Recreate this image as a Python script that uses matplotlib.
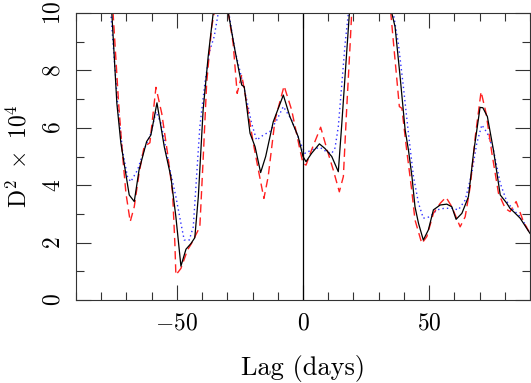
import numpy as np
import matplotlib
matplotlib.use("Agg")
import matplotlib.pyplot as plt
from matplotlib.ticker import MultipleLocator

plt.rcParams['font.family'] = 'cmr10'
plt.rcParams['mathtext.fontset'] = 'cm'
plt.rcParams['axes.formatter.use_mathtext'] = True

# solid black curve
lag_k = [-78, -75.8, -73.8, -72.2, -68.9, -66.9, -65, -62, -60.3, -57.9, -55, -52.4,
         -50.4, -48.4, -46.4, -44.4, -42.9, -41.5, -39.6, -37.6, -35.6, -32.6, -29.6,
         -27, -24.3, -23.3, -21, -19, -16.8, -14.8, -11.8, -7.8, -5.2, -1.9, 0,
         1.2, 3.4, 6.5, 8.7, 11.4, 14.0, 15.3, 17.3, 18.4, 27, 35.2, 36.5, 38.5,
         40.5, 41.8, 43.2, 44.4, 45.8, 47.7, 49.7, 51.7, 54.4, 57.0, 59.0, 60.7,
         63.0, 65.6, 67.6, 70.2, 71.3, 73.1, 75.5, 78.2, 80.8, 82.1, 83.7, 86.1, 90]
d2_k = [11.5, 10, 6.85, 5.46, 3.66, 3.43, 4.53, 5.52, 5.75, 6.87, 5.34, 4.30,
        2.90, 1.18, 1.77, 1.97, 2.17, 3.6, 6.62, 8.48, 10, 11.5, 10,
        8.71, 7.49, 7.43, 5.81, 5.34, 4.44, 5.0, 6.21, 7.14, 6.39, 5.69, 5.0,
        4.82, 5.11, 5.44, 5.28, 5.0, 4.47, 6.04, 8.6, 10, 13, 10, 9.52, 7.78,
        5.92, 5.23, 4.3, 3.25, 2.67, 2.09, 2.44, 3.14, 3.31, 3.34, 3.25, 2.81,
        3.02, 3.6, 5.11, 6.71, 6.7, 6.39, 5.23, 3.66, 3.37, 3.19, 3.06, 2.85, 2.32]

# dashed red curve
lag_r = [-77.5, -75.3, -73.1, -71.6, -70.2, -68.5, -66.9, -65, -63, -60.7, -58.3,
         -56, -53.7, -51.7, -50.8, -50.4, -48.4, -45.8, -44.2, -40.9, -39.6, -38.2,
         -36.2, -35.2, -32.4, -29.6, -27.7, -26.1, -24.3, -22.3, -19.7, -17.7, -15.5,
         -13.8, -11.1, -7.5, -4.5, -1.2, 0, 1.2, 3.4, 7.0, 9.4, 12.0, 14.4, 16,
         17.3, 18.7, 19.3, 27, 34.8, 36.5, 38.2, 39.2, 41.1, 43.1, 44.4, 47.1, 49.1,
         51.7, 54.4, 56.7, 59, 62.3, 64.3, 66.3, 68.3, 70.6, 72.6, 74.9, 77.5, 80.2,
         82.1, 84.5, 87.4, 90]
d2_r = [11.5, 10, 6.85, 5.11, 3.72, 2.73, 3.25, 4.41, 5.34, 5.48, 7.41,
        6.5, 5.11, 3.72, 1.97, 0.87, 1.1, 1.74, 1.97, 2.55, 4.88, 7.55,
        9.52, 10, 11.5, 10, 8.94, 7.2, 7.84, 6.85, 5.46, 4.53, 3.54,
        4.3, 6.27, 7.46, 6.62, 5.23, 4.76, 4.7, 5.23, 6.02, 5.28, 4.53, 3.77, 4.3,
        6.62, 8.94, 10, 13, 10, 8.36, 6.74, 6.68, 5.23, 3.83, 2.79, 1.97, 2.21,
        3.02, 3.37, 3.58, 3.25, 2.55, 2.9, 3.95, 5.69, 7.26, 6.5, 5.11, 3.72, 3.19,
        3.08, 3.43, 2.73, 2.32]

# dotted blue curve
lag_b = [-78, -76.2, -73.5, -71.6, -69.6, -68.3, -65.6, -63, -60.3, -58.3, -56.3,
         -53, -50.4, -48.4, -47.1, -45.1, -43.5, -42.2, -40.9, -38.9, -36.9, -35.2,
         -33.6, -31.5, -29.4, -27, -24.3, -22.3, -20.4, -18.4, -15.7, -13.1, -10.4,
         -7.8, -4.5, -1.2, 0.8, 3.4, 6.7, 9.4, 11.4, 12.7, 14.0, 15.3, 16.7, 18,
         27, 35.8, 37.8, 39.8, 41.8, 43.8, 45.8, 47.7, 50.4, 53.1, 55.7, 59, 61.6,
         64.3, 66.9, 68.9, 70.9, 73.1, 75.5, 78.2, 80.8, 83.4, 86.7, 90]
d2_b = [11.5, 10, 6.85, 5.23, 4.3, 4.12, 4.53, 5.23, 5.81, 6.56, 6.16,
        4.65, 3.6, 2.67, 2.09, 2.09, 2.55, 4.3, 6.04, 7.55, 8.71, 9.18,
        10, 10.8, 10, 8.71, 7.72, 6.97, 6.16, 5.57, 5.75, 5.87, 6.27,
        6.74, 6.27, 5.51, 5.11, 5.23, 5.32, 5.16, 5.11, 5.3, 6.04, 7.43, 8.94, 10,
        13, 10, 8.94, 7.43, 5.81, 4.3, 3.37, 2.85, 2.9, 3.14, 3.19, 3.2, 3.14,
        3.48, 4.41, 5.46, 6.1, 5.81, 5.23, 4.07, 3.43, 3.14, 2.85, 2.32]

fig = plt.figure(figsize=(5.31, 3.83), dpi=100)
ax = fig.add_axes([76 / 531, 83 / 383, 454 / 531, 287 / 383])

ax.plot(lag_b, d2_b, color='#3030ff', lw=1.0, ls=(0, (1, 2.2)))
ax.plot(lag_r, d2_r, color='#ff2020', lw=1.0, ls=(0, (6, 3.5)))
ax.plot(lag_k, d2_k, color='black', lw=0.9)
ax.axvline(0, color='black', lw=0.9)

ax.set_xlim(-90, 90)
ax.set_ylim(0, 10)
ax.xaxis.set_major_locator(MultipleLocator(50))
ax.xaxis.set_minor_locator(MultipleLocator(10))
ax.yaxis.set_major_locator(MultipleLocator(2))
ax.yaxis.set_minor_locator(MultipleLocator(1))
ax.tick_params(which='both', direction='in', top=True, right=True, width=0.8,
               color='#333333', labelsize=17)
ax.tick_params(which='major', length=11)
ax.tick_params(which='minor', length=6)
ax.tick_params(axis='x', pad=9)
ax.tick_params(axis='y', labelrotation=90, pad=8)
for lbl in ax.get_yticklabels():
    lbl.set_va('center')
for s in ax.spines.values():
    s.set_linewidth(0.8)
    s.set_color('#333333')

ax.set_xlabel('Lag (days)', fontsize=19, labelpad=15)
ax.set_ylabel(r'$\mathrm{D}^2\ \times\ 10^4$', fontsize=17, labelpad=8)

fig.savefig('out.png', dpi=100)
